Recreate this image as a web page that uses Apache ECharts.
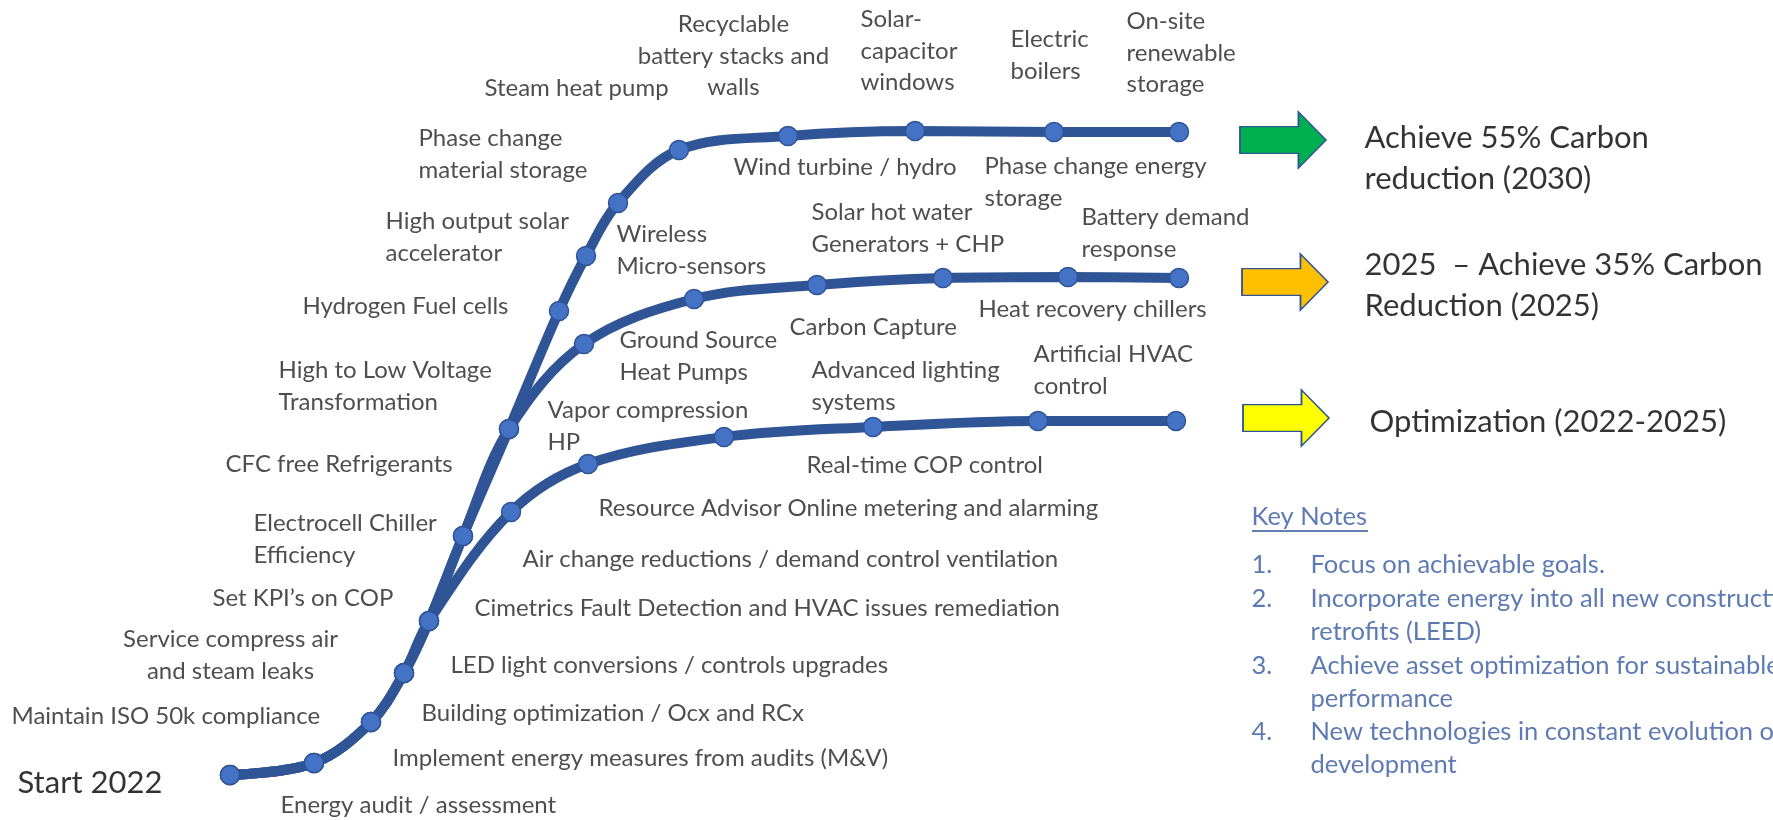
<!DOCTYPE html>
<html lang="en">
<head>
<meta charset="UTF-8">
<title>Carbon reduction roadmap</title>
<script src="https://cdn.jsdelivr.net/npm/echarts@6/dist/echarts.min.js"></script>
<style>
html,body{margin:0;padding:0;background:#fff}
#chartBox{width:1773px;height:820px}
</style>
</head>
<body>
<div id="chartBox"></div>
<script>
// milestones as [x, y] on the roadmap plane (y grows downward)
const trunk = [[230,775],[314,763],[371,722],[404,673],[429,621]];
const trunkUpper = [[463,536],[509,429]];
const path2030 = [[559,311],[586,256],[618,203],[679,150],[788,136],[915,131],[1054,132],[1179,132]];
const path2025 = [[584,344],[694,299],[817,285],[943,278],[1068,277],[1179,278]];
const pathOpt = [[511,512],[588,464],[724,437],[873,427],[1038,421],[1176,421]];

// captions: [x, y of first line, text]
const captions = [
    [281,806,'Energy audit / assessment'],
    [393,759,'Implement energy measures from audits (M&V)'],
    [12,717,'Maintain ISO 50k compliance'],
    [422,714,'Building optimization / Ocx and RCx'],
    [451,666,'LED light conversions / controls upgrades'],
    [213,599,'Set KPI\u2019s on COP'],
    [475,609,'Cimetrics Fault Detection and HVAC issues remediation'],
    [254,524,'Electrocell Chiller\nEfficiency'],
    [523,560,'Air change reductions / demand control ventilation'],
    [599,509,'Resource Advisor Online metering and alarming'],
    [226,465,'CFC free Refrigerants'],
    [279,371,'High to Low Voltage\nTransformation'],
    [548,411,'Vapor compression\nHP'],
    [303,307,'Hydrogen Fuel cells'],
    [620,341,'Ground Source\nHeat Pumps'],
    [617,235,'Wireless\nMicro-sensors'],
    [386,222,'High output solar\naccelerator'],
    [419,139,'Phase change\nmaterial storage'],
    [485,89,'Steam heat pump'],
    [734,168,'Wind turbine / hydro'],
    [861,20,'Solar-\ncapacitor\nwindows'],
    [985,167,'Phase change energy\nstorage'],
    [1011,40,'Electric\nboilers'],
    [1127,22,'On-site\nrenewable\nstorage'],
    [812,213,'Solar hot water\nGenerators + CHP'],
    [1082,218,'Battery demand\nresponse'],
    [979,310,'Heat recovery chillers'],
    [790,328,'Carbon Capture'],
    [812,371,'Advanced lighting\nsystems'],
    [1034,355,'Artificial HVAC\ncontrol'],
    [807,466,'Real-time COP control']
];
const centeredCaptions = [
    [231,640,'Service compress air\nand steam leaks'],
    [734,25,'Recyclable\nbattery stacks and\nwalls']
];
const startLabel = [[18,783,'Start 2022']];

// goals at the end of each path
const goalArrows = [[1283,140],[1285,282],[1286,418]];
const goalColors = ['#00B050','#FFC000','#FFFF00'];
const goalTexts = [
    [1365,138,'Achieve 55% Carbon\nreduction (2030)'],
    [1365,265,'2025  \u2013 Achieve 35% Carbon\nReduction (2025)'],
    [1370,422,'Optimization (2022-2025)']
];

// key notes
const notesTitle = [[1252,517,'Key Notes']];
const noteNumbers = [[1252,565,'1.'],[1252,599,'2.'],[1252,666,'3.'],[1252,732,'4.']];
const noteTexts = [
    [1311,565,'Focus on achievable goals.'],
    [1311,599,'Incorporate energy into all new construction and\nretrofits (LEED)'],
    [1311,666,'Achieve asset optimization for sustainable\nperformance'],
    [1311,732,'New technologies in constant evolution or\ndevelopment']
];

const LINE = '#2F5597';
const DOT = '#4472C4';

function pathSeries(name, points){
    return {
        type: 'line',
        name: name,
        data: points,
        smooth: 0.35,
        symbol: 'circle',
        symbolSize: 19,
        lineStyle: {color: LINE, width: 10},
        itemStyle: {color: DOT, borderColor: LINE, borderWidth: 1.5},
        z: 3
    };
}

function textSeries(data, style, align){
    const lh = style.lineHeight;
    return {
        type: 'scatter',
        data: data,
        symbolSize: 1,
        itemStyle: {color: 'transparent'},
        silent: true,
        z: 5,
        label: Object.assign({
            show: true,
            position: [0, 0],
            align: align || 'left',
            verticalAlign: 'top',
            offset: [0, -lh / 2],
            formatter: p => p.value[2]
        }, style)
    };
}

const captionStyle = {fontFamily: 'Lato', fontWeight: 400, fontSize: 24, lineHeight: 31.5, color: '#222'};
const noteStyle = {fontFamily: 'Lato', fontWeight: 400, fontSize: 25.5, lineHeight: 33, color: '#3559A0'};

const chartObj = echarts.init(document.getElementById('chartBox'));
chartObj.setOption({
    animation: false,
    grid: {left: 0, right: 0, top: 0, bottom: 0},
    xAxis: {type: 'value', min: 0, max: 1773, show: false},
    yAxis: {type: 'value', min: 0, max: 820, inverse: true, show: false},
    series: [
        pathSeries('Optimization', trunk.concat(pathOpt)),
        pathSeries('2025', trunk.concat(trunkUpper, path2025)),
        pathSeries('2030', trunk.concat(trunkUpper, path2030)),
        {
            type: 'scatter',
            data: goalArrows,
            symbol: 'path://M0,26L68,26L68,0L100,50L68,100L68,74L0,74Z',
            symbolSize: [86, 56],
            itemStyle: {
                color: p => goalColors[p.dataIndex],
                borderColor: LINE,
                borderWidth: 1.5,
                opacity: 1
            },
            z: 4
        },
        textSeries(captions, captionStyle),
        textSeries(centeredCaptions, captionStyle, 'center'),
        textSeries(startLabel, {fontFamily: 'Lato', fontSize: 31, lineHeight: 40, color: '#000'}),
        textSeries(goalTexts, {fontFamily: 'Lato', fontSize: 31, lineHeight: 41.5, color: '#000'}),
        textSeries(notesTitle, noteStyle),
        textSeries(noteNumbers, noteStyle),
        textSeries(noteTexts, noteStyle),
        {
            // underline of "Key Notes"
            type: 'line',
            data: [[notesTitle[0][0], notesTitle[0][1] + 14], [notesTitle[0][0] + 116, notesTitle[0][1] + 14]],
            symbol: 'none',
            lineStyle: {color: LINE, width: 1.5},
            silent: true
        }
    ]
});
</script>
</body>
</html>
